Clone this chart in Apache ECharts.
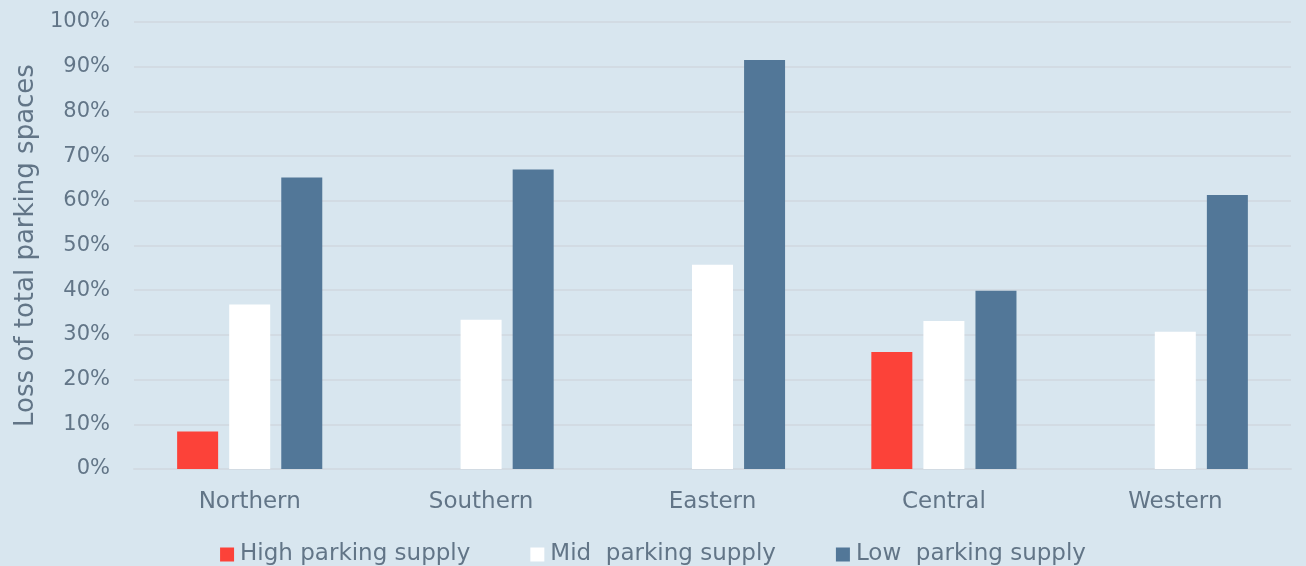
<!DOCTYPE html>
<html>
<head>
<meta charset="utf-8">
<script src="https://cdn.jsdelivr.net/npm/echarts@6/dist/echarts.min.js"></script>
<style>
  html, body { margin: 0; padding: 0; background: #d8e6ef; }
  #chart { width: 1306px; height: 566px; }
</style>
</head>
<body>
<div id="chart"></div>
<script>
// Share of parking spaces lost, by region and parking-supply level
const regions = ['Northern', 'Southern', 'Eastern', 'Central', 'Western'];
const highSupply = [8.4, null, null, 26.2, null];
const midSupply = [36.8, 33.4, 45.7, 33.1, 30.7];
const lowSupply = [65.2, 67.0, 91.5, 39.9, 61.3];
const seriesNames = ['High parking supply', 'Mid  parking supply', 'Low  parking supply'];
const yTicks = [0, 10, 20, 30, 40, 50, 60, 70, 80, 90, 100];

const font = 'DejaVu Sans';
const textColor = '#627587';

const chart = echarts.init(document.getElementById('chart'), null, { renderer: 'canvas' });
chart.setOption({
  backgroundColor: '#d8e6ef',
  animation: false,
  textStyle: { fontFamily: font, color: textColor },
  grid: { left: 134, right: 15, top: 22, bottom: 97, containLabel: false },
  legend: {
    bottom: -5,
    left: 'center',
    itemWidth: 14,
    itemHeight: 14,
    itemGap: 60,
    icon: 'rect',
    textStyle: { fontFamily: font, fontSize: 23, color: textColor, padding: [0, 0, 0, 1] },
    data: seriesNames
  },
  xAxis: {
    type: 'category',
    data: regions,
    axisLine: { show: true, lineStyle: { color: '#d2dbe3', width: 2 } },
    axisTick: { show: false },
    axisLabel: { fontFamily: font, fontSize: 23, color: textColor, margin: 22 }
  },
  yAxis: {
    type: 'value',
    min: yTicks[0],
    max: yTicks[yTicks.length - 1],
    interval: 10,
    name: 'Loss of total parking spaces',
    nameLocation: 'middle',
    nameGap: 82,
    nameTextStyle: { fontFamily: font, fontSize: 26, color: textColor },
    axisLine: { show: false },
    axisTick: { show: false },
    splitLine: { lineStyle: { color: '#d2dbe3', width: 2 } },
    axisLabel: { fontFamily: font, fontSize: 21, color: textColor, margin: 24, formatter: '{value}%' }
  },
  series: [
    { name: seriesNames[0], type: 'bar', data: highSupply, barWidth: 41, barGap: '27%',
      itemStyle: { color: '#fc4239' } },
    { name: seriesNames[1], type: 'bar', data: midSupply, barWidth: 41, barGap: '27%',
      itemStyle: { color: '#ffffff' } },
    { name: seriesNames[2], type: 'bar', data: lowSupply, barWidth: 41, barGap: '27%',
      itemStyle: { color: '#527798' } }
  ]
});
</script>
</body>
</html>
